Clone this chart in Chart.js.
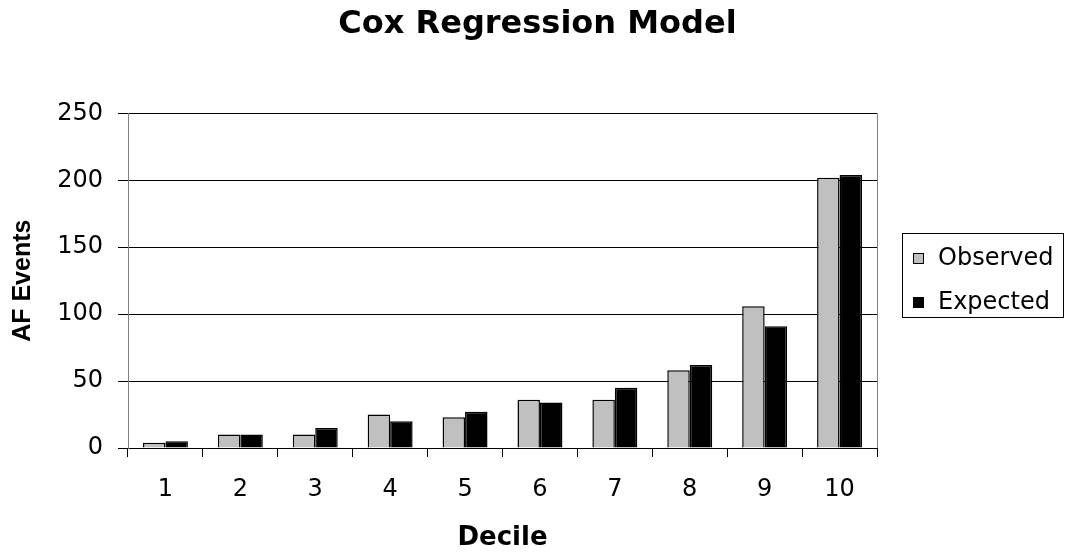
<!DOCTYPE html>
<html>
<head>
<meta charset="utf-8">
<script src="https://cdn.jsdelivr.net/npm/chart.js@4/dist/chart.umd.min.js"></script>
<style>
  html, body { margin: 0; padding: 0; background: #fff; }
  #wrap { width: 1075px; height: 556px; }
</style>
</head>
<body>
<div id="wrap"><canvas id="c"></canvas></div>
<script>
// data
const deciles  = ['1', '2', '3', '4', '5', '6', '7', '8', '9', '10'];
const observed = [4, 10, 10, 25, 23, 36, 36, 58, 106, 202];
const expected = [5, 10, 15, 20, 27, 34, 45, 62, 91, 204];
const yTicks   = [0, 50, 100, 150, 200, 250];

// the reference text is slightly wide, DejaVu gets closest
const FONT = "'DejaVu Sans', 'Liberation Sans', sans-serif";
const BOLD = "'Liberation Sans', Arial, sans-serif";

// gray right edge of the plot area (drawn under the bars)
const frame = {
  id: 'frame',
  beforeDatasetsDraw(chart) {
    const { ctx, chartArea: a } = chart;
    ctx.save();
    ctx.strokeStyle = '#808080';
    ctx.lineWidth = 1;
    ctx.beginPath();
    ctx.moveTo(Math.round(a.right) + 0.5, a.top);
    ctx.lineTo(Math.round(a.right) + 0.5, a.bottom);
    ctx.stroke();
    ctx.restore();
  }
};

// boxed legend like the Excel one
const boxLegend = {
  id: 'boxLegend',
  afterDraw(chart) {
    const { ctx } = chart;
    const x = 902, y = 233, w = 161, h = 84;
    ctx.save();
    ctx.strokeStyle = '#000';
    ctx.lineWidth = 1;
    ctx.strokeRect(x + 0.5, y + 0.5, w, h);
    ctx.font = '24px ' + FONT;
    ctx.textBaseline = 'middle';
    chart.data.datasets.forEach((ds, i) => {
      const cy = y + 25 + i * 44;
      ctx.fillStyle = ds.backgroundColor;
      ctx.fillRect(x + 11, cy - 5, 11, 11);
      ctx.strokeStyle = '#000';
      ctx.strokeRect(x + 11.5, cy - 4.5, 10, 10);
      ctx.fillStyle = '#000';
      ctx.fillText(ds.label, x + 36, cy + 1);
    });
    ctx.restore();
  }
};

new Chart(document.getElementById('c'), {
  type: 'bar',
  data: {
    labels: deciles,
    datasets: [
      { label: 'Observed', data: observed, backgroundColor: '#C0C0C0', borderColor: '#000', borderWidth: 1.5 },
      { label: 'Expected', data: expected, backgroundColor: '#000000', borderColor: '#000', borderWidth: 1.5 }
    ]
  },
  options: {
    responsive: true,
    maintainAspectRatio: false,
    animation: false,
    layout: { padding: 0 },
    datasets: { bar: { categoryPercentage: 0.6, barPercentage: 1.0 } },
    plugins: {
      legend: { display: false },
      tooltip: { enabled: false },
      title: {
        display: true,
        text: 'Cox Regression Model',
        color: '#000',
        font: { family: FONT, size: 32, weight: 'bold' },
        padding: { top: 5, bottom: 70 }
      }
    },
    scales: {
      x: {
        afterFit: s => { s.height = 108; },
        grid: { display: true, drawOnChartArea: false, drawTicks: true, tickLength: 9, color: '#000', offset: true },
        border: { color: '#000' },
        ticks: { color: '#000', font: { family: FONT, size: 24 }, padding: 18, maxRotation: 0 },
        title: { display: true, text: 'Decile', color: '#000', font: { family: FONT, size: 26, weight: 'bold' }, padding: { top: 0, bottom: 2 } }
      },
      y: {
        min: 0, max: 250,
        afterFit: s => { s.width = 128; },
        afterBuildTicks: s => { s.ticks = yTicks.map(v => ({ value: v })); },
        grid: { color: '#000', tickLength: 10, lineWidth: 1 },
        border: { color: '#808080' },
        ticks: { color: '#000', font: { family: FONT, size: 24 }, padding: 15 },
        title: { display: true, text: 'AF Events', color: '#000', font: { family: BOLD, size: 25, weight: 'bold' }, padding: { top: 8, bottom: 0 } }
      },
      // empty right-hand scale: reserves the space where the legend sits
      side: {
        position: 'right',
        display: true,
        afterFit: s => { s.width = 198; },
        grid: { display: false },
        border: { display: false },
        ticks: { display: false }
      }
    }
  },
  plugins: [frame, boxLegend]
});
</script>
</body>
</html>
